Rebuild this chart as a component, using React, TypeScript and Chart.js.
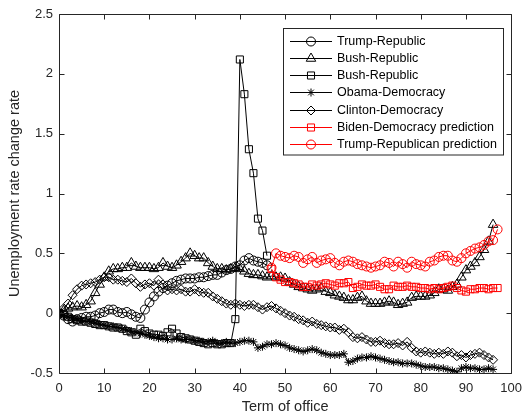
import React, { useEffect, useRef } from 'react';
import { Chart, registerables } from 'chart.js';
import { drawPoint } from 'chart.js/helpers';

Chart.register(...registerables);

const FONT = '"Liberation Sans", Arial, Helvetica, sans-serif';
const AXIS_COLOR = '#262626';

// ---- axis ticks ----
const xTicks = [0, 10, 20, 30, 40, 50, 60, 70, 80, 90, 100];
const yTicks = [-0.5, 0, 0.5, 1, 1.5, 2, 2.5];
const xTitle = 'Term of office';
const yTitle = 'Unemployment rate change rate';

// ---- series data (values start at x = start, step 1) ----
const trumpStart = 0;
const trumpValues = [
  0, -0.02, -0.05, -0.07, -0.05, -0.04, -0.03, -0.03, -0.02, 0.0,
  0.01, 0.03, 0.03, 0.01, 0.0, 0.01, -0.01, -0.03, -0.04, 0.03,
  0.09, 0.14, 0.18, 0.21, 0.23, 0.25, 0.27, 0.28, 0.29, 0.29,
  0.29, 0.3, 0.3, 0.31, 0.32, 0.32, 0.34, 0.36, 0.37, 0.39,
  0.4, 0.44, 0.46, 0.44, 0.43, 0.42, 0.4,
];

const bushTriStart = 0;
const bushTriValues = [
  0, 0.02, 0.04, 0.05, 0.06, 0.05, 0.07, 0.1, 0.17, 0.24,
  0.3, 0.35, 0.37, 0.37, 0.38, 0.38, 0.42, 0.39, 0.38, 0.38,
  0.38, 0.37, 0.38, 0.42, 0.39, 0.38, 0.4, 0.43, 0.46, 0.5,
  0.48, 0.46, 0.46, 0.42, 0.39, 0.37, 0.37, 0.36, 0.37, 0.38,
  0.37, 0.35, 0.33, 0.32, 0.32, 0.31, 0.3, 0.31, 0.3, 0.3,
  0.29, 0.26, 0.24, 0.22, 0.21, 0.2, 0.19, 0.2, 0.21, 0.18,
  0.17, 0.15, 0.14, 0.13, 0.11, 0.11, 0.13, 0.14, 0.1, 0.08,
  0.08, 0.08, 0.09, 0.1, 0.09, 0.07, 0.08, 0.09, 0.13, 0.14,
  0.14, 0.14, 0.15, 0.17, 0.2, 0.2, 0.19, 0.22, 0.24, 0.3,
  0.36, 0.39, 0.42, 0.47, 0.53, 0.6, 0.74,
];

const bushSqStart = 0;
const bushSqValues = [
  0, -0.01, -0.03, -0.05, -0.06, -0.07, -0.07, -0.08, -0.09, -0.1,
  -0.1, -0.11, -0.12, -0.12, -0.13, -0.15, -0.16, -0.18, -0.13, -0.15,
  -0.17, -0.18, -0.18, -0.19, -0.16, -0.13, -0.17, -0.2, -0.21, -0.22,
  -0.23, -0.24, -0.25, -0.26, -0.25, -0.26, -0.26, -0.25, -0.25, -0.05,
  2.12, 1.83, 1.37, 1.17, 0.79, 0.69, 0.48,
];

const obamaStart = 0;
const obamaValues = [
  0, -0.02, -0.03, -0.04, -0.05, -0.06, -0.07, -0.07, -0.08, -0.09,
  -0.1, -0.11, -0.11, -0.12, -0.13, -0.14, -0.15, -0.16, -0.17, -0.18,
  -0.19, -0.2, -0.21, -0.21, -0.22, -0.22, -0.21, -0.22, -0.22, -0.22,
  -0.23, -0.23, -0.24, -0.24, -0.23, -0.25, -0.25, -0.24, -0.25, -0.25,
  -0.24, -0.23, -0.23, -0.24, -0.29, -0.28, -0.26, -0.26, -0.25, -0.26,
  -0.27, -0.29, -0.3, -0.31, -0.32, -0.31, -0.3, -0.31, -0.33, -0.34,
  -0.35, -0.35, -0.35, -0.34, -0.41, -0.4, -0.38, -0.37, -0.37, -0.36,
  -0.37, -0.38, -0.39, -0.4, -0.41, -0.41, -0.42, -0.42, -0.42, -0.43,
  -0.44, -0.45, -0.45, -0.45, -0.46, -0.46, -0.47, -0.48, -0.49, -0.46,
  -0.45, -0.46, -0.46, -0.47, -0.47, -0.46, -0.47,
];

const clintonStart = 0;
const clintonValues = [
  0, 0.04, 0.08, 0.15, 0.2, 0.23, 0.24, 0.25, 0.26, 0.28,
  0.3, 0.3, 0.28, 0.28, 0.27, 0.26, 0.29, 0.25, 0.22, 0.24,
  0.25, 0.23, 0.28, 0.24, 0.19, 0.2, 0.19, 0.2, 0.18, 0.18,
  0.2, 0.18, 0.17, 0.17, 0.14, 0.12, 0.1, 0.08, 0.07, 0.08,
  0.07, 0.06, 0.07, 0.07, 0.05, 0.03, 0.05, 0.06, 0.04, 0.02,
  0.0, -0.02, -0.03, -0.05, -0.06, -0.08, -0.07, -0.09, -0.1, -0.11,
  -0.12, -0.12, -0.14, -0.13, -0.16, -0.2, -0.21, -0.2, -0.22, -0.24,
  -0.24, -0.23, -0.25, -0.26, -0.26, -0.25, -0.27, -0.24, -0.29, -0.32,
  -0.33, -0.32, -0.33, -0.34, -0.33, -0.34, -0.32, -0.33, -0.36, -0.35,
  -0.37, -0.35, -0.34, -0.33, -0.35, -0.37, -0.39,
];

const bidenPredStart = 47;
const bidenPredValues = [
  0.37, 0.3, 0.28, 0.26, 0.26, 0.25, 0.24, 0.22, 0.22, 0.24,
  0.23, 0.24, 0.25, 0.24, 0.23, 0.25, 0.25, 0.26, 0.21, 0.22,
  0.24, 0.23, 0.23, 0.24, 0.22, 0.2, 0.2, 0.23, 0.22, 0.22,
  0.23, 0.22, 0.22, 0.21, 0.21, 0.2, 0.21, 0.2, 0.21, 0.22,
  0.23, 0.21, 0.19, 0.18, 0.2, 0.2, 0.21, 0.21, 0.2, 0.21,
  0.21,
];

const trumpPredStart = 47;
const trumpPredValues = [
  0.38, 0.5, 0.48, 0.47, 0.46, 0.48, 0.47, 0.42, 0.45, 0.47,
  0.42, 0.44, 0.45, 0.46, 0.42, 0.4, 0.43, 0.44, 0.43, 0.41,
  0.4, 0.39, 0.38, 0.39, 0.4, 0.43, 0.42, 0.39, 0.43, 0.41,
  0.38, 0.43, 0.41, 0.4, 0.39, 0.43, 0.44, 0.47, 0.48, 0.48,
  0.44, 0.43, 0.46, 0.5, 0.52, 0.54, 0.55, 0.57, 0.6, 0.61,
  0.7,
];

// ---- styles ----
type SeriesDef = {
  label: string;
  start: number;
  values: number[];
  color: string;
  pointStyle: string;
  radius: number;
};

const seriesDefs: SeriesDef[] = [
  { label: 'Trump-Republic', start: trumpStart, values: trumpValues, color: '#000000', pointStyle: 'circle', radius: 4.5 },
  { label: 'Bush-Republic', start: bushTriStart, values: bushTriValues, color: '#000000', pointStyle: 'triangle', radius: 5.5 },
  { label: 'Bush-Republic', start: bushSqStart, values: bushSqValues, color: '#000000', pointStyle: 'rect', radius: 5 },
  { label: 'Obama-Democracy', start: obamaStart, values: obamaValues, color: '#000000', pointStyle: 'star', radius: 4 },
  { label: 'Clinton-Democracy', start: clintonStart, values: clintonValues, color: '#000000', pointStyle: 'rectRot', radius: 4.5 },
  { label: 'Biden-Democracy prediction', start: bidenPredStart, values: bidenPredValues, color: '#ff0000', pointStyle: 'rect', radius: 5 },
  { label: 'Trump-Republican prediction', start: trumpPredStart, values: trumpPredValues, color: '#ff0000', pointStyle: 'circle', radius: 4.5 },
];

const framePlugin = {
  id: 'frame',
  afterDatasetsDraw(chart: any) {
    const { ctx, chartArea: a, scales } = chart;
    const xs = scales.x;
    const ys = scales.y;
    const L = Math.round(a.left) + 0.5;
    const R = Math.round(a.right) + 0.5;
    const T = Math.round(a.top) + 0.5;
    const B = Math.round(a.bottom) + 0.5;
    ctx.save();
    ctx.strokeStyle = AXIS_COLOR;
    ctx.lineWidth = 1;
    ctx.beginPath();
    ctx.rect(L, T, R - L, B - T);
    const tl = 5;
    xTicks.forEach((v) => {
      const px = Math.round(xs.getPixelForValue(v)) + 0.5;
      ctx.moveTo(px, B);
      ctx.lineTo(px, B - tl);
      ctx.moveTo(px, T);
      ctx.lineTo(px, T + tl);
    });
    yTicks.forEach((v) => {
      const py = Math.round(ys.getPixelForValue(v)) + 0.5;
      ctx.moveTo(L, py);
      ctx.lineTo(L + tl, py);
      ctx.moveTo(R, py);
      ctx.lineTo(R - tl, py);
    });
    ctx.stroke();
    ctx.restore();
  },
};

const legendPlugin = {
  id: 'matlabLegend',
  afterDraw(chart: any) {
    const { ctx } = chart;
    const bx = 283.5;
    const by = 28.5;
    const bw = 220;
    const bh = 126.5;
    ctx.save();
    ctx.fillStyle = '#ffffff';
    ctx.fillRect(bx, by, bw, bh);
    ctx.strokeStyle = AXIS_COLOR;
    ctx.lineWidth = 1;
    ctx.strokeRect(bx, by, bw, bh);
    const rowH = 17.25;
    const y0 = 40.5;
    seriesDefs.forEach((s, i) => {
      const y = Math.round(y0 + i * rowH) + 0.5;
      ctx.strokeStyle = s.color;
      ctx.lineWidth = 1;
      ctx.beginPath();
      ctx.moveTo(290, y);
      ctx.lineTo(332, y);
      ctx.stroke();
      ctx.fillStyle = 'rgba(0,0,0,0)';
      ctx.strokeStyle = s.color;
      drawPoint(ctx, { pointStyle: s.pointStyle, radius: s.radius, rotation: 0, borderWidth: 1 } as any, 311, y);
      ctx.fillStyle = '#000000';
      ctx.font = `12.5px ${FONT}`;
      ctx.textAlign = 'left';
      ctx.textBaseline = 'middle';
      ctx.fillText(s.label, 337, y);
    });
    ctx.restore();
  },
};

export default function App() {
  const ref = useRef<HTMLCanvasElement | null>(null);
  useEffect(() => {
    if (!ref.current) return;
    const datasets = seriesDefs.map((s, i) => ({
      label: s.label,
      data: s.values.map((y, k) => ({ x: s.start + k, y })),
      borderColor: s.color,
      borderWidth: 1,
      backgroundColor: 'rgba(0,0,0,0)',
      pointStyle: s.pointStyle,
      pointRadius: s.radius,
      pointBorderColor: s.color,
      pointBackgroundColor: 'rgba(0,0,0,0)',
      pointBorderWidth: 1,
      tension: 0,
      fill: false,
      order: -i,
    }));
    const chart = new Chart(ref.current, {
      type: 'line',
      data: { datasets } as any,
      options: {
        animation: false,
        responsive: false,
        devicePixelRatio: 1,
        layout: { padding: { top: 14, right: 13, left: 0, bottom: 0 } },
        plugins: {
          legend: { display: false },
          tooltip: { enabled: false },
        },
        scales: {
          x: {
            type: 'linear',
            min: 0,
            max: 100,
            afterFit: (s: any) => { s.height = 43; },
            afterBuildTicks: (s: any) => { s.ticks = xTicks.map((v) => ({ value: v })); },
            grid: { display: false, drawTicks: false },
            border: { display: false },
            ticks: {
              color: AXIS_COLOR,
              font: { family: FONT, size: 13 },
              padding: 8,
              maxRotation: 0,
              callback: (v: any) => String(v),
            },
            title: {
              display: true,
              text: xTitle,
              color: AXIS_COLOR,
              font: { family: FONT, size: 14.5 },
              padding: { top: 0, bottom: 0 },
            },
          },
          y: {
            type: 'linear',
            min: -0.5,
            max: 2.5,
            afterFit: (s: any) => { s.width = 59; },
            afterBuildTicks: (s: any) => { s.ticks = yTicks.map((v) => ({ value: v })); },
            grid: { display: false, drawTicks: false },
            border: { display: false },
            ticks: {
              color: AXIS_COLOR,
              font: { family: FONT, size: 13 },
              padding: 6,
              callback: (v: any) => String(v),
            },
            title: {
              display: true,
              text: yTitle,
              color: AXIS_COLOR,
              font: { family: FONT, size: 14.5 },
              padding: { top: 6, bottom: 0 },
            },
          },
        },
      } as any,
      plugins: [framePlugin, legendPlugin],
    });
    return () => chart.destroy();
  }, []);
  return (
    <div style={{ position: 'absolute', left: 0, top: 0, width: 530, height: 416, background: '#fff' }}>
      <canvas ref={ref} width={530} height={416} style={{ display: 'block', width: 530, height: 416 }} />
    </div>
  );
}
